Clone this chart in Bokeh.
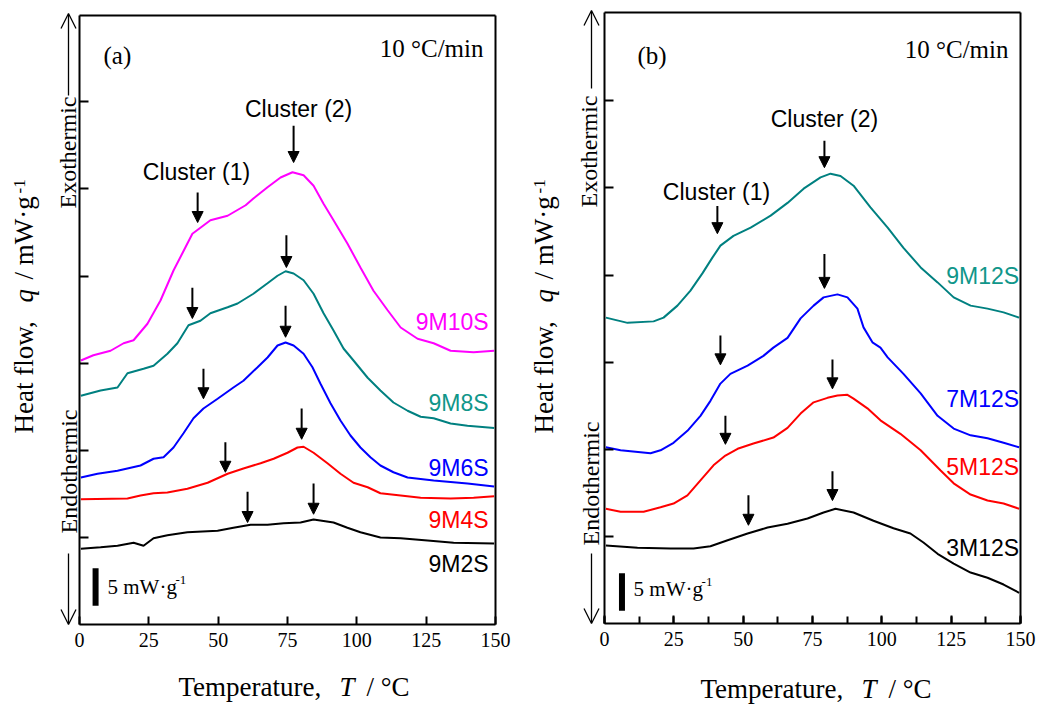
from math import pi
from bokeh.plotting import figure
from bokeh.layouts import row
from bokeh.models import (Range1d, FixedTicker, SingleIntervalTicker, Label, LinearAxis,
                          Arrow, NormalHead, OpenHead, ColumnDataSource)
from bokeh.embed import file_html
from bokeh.resources import INLINE
from bokeh.core.properties import value

SERIF = "Liberation Serif"
SANS = "Liberation Sans"

# ---------------- data : panel (a) ----------------
a_9M10S_T = [0.5, 5.0, 11.2, 15.9, 19.5, 24.5, 29.2, 33.9, 37.1, 40.7, 43.6, 47.2, 53.4, 59.9, 62.7, 67.8,
             72.5, 76.8, 80.8, 84.4, 88.0, 91.6, 96.6, 101.3, 106.0, 111.1, 115.8, 121.9, 127.7, 133.8, 142.1, 149.5]
a_9M10S_q = [35.2, 35.9, 36.5, 37.5, 37.9, 40.1, 43.2, 47.2, 49.5, 52.1, 52.9, 53.9, 54.5, 55.9, 56.8, 58.3,
             59.6, 60.3, 59.9, 58.5, 56.1, 53.9, 50.8, 47.6, 44.5, 41.9, 39.6, 38.1, 37.5, 36.5, 36.3, 36.5]

a_9M8S_T = [0.5, 7.6, 13.7, 17.3, 23.1, 26.7, 31.7, 35.3, 39.3, 43.6, 47.2, 53.4, 57.0, 62.7, 67.8, 71.4, 74.3,
            77.2, 80.8, 84.4, 88.0, 91.6, 95.2, 98.8, 103.9, 108.5, 113.2, 118.3, 123.0, 127.7, 133.8, 139.9, 149.5]
a_9M8S_q = [30.5, 31.2, 31.6, 33.5, 34.1, 34.5, 36.1, 37.5, 39.9, 40.5, 41.5, 42.3, 42.8, 44.1, 45.5, 46.5, 47.1,
            46.8, 45.9, 44.1, 41.5, 39.2, 36.8, 35.2, 32.9, 31.2, 29.6, 28.5, 27.7, 27.5, 26.8, 26.5, 26.2]

a_9M6S_T = [0.5, 6.5, 13.7, 22.0, 26.7, 30.3, 33.9, 37.5, 41.1, 44.7, 49.8, 55.5, 59.1, 64.2, 67.8, 71.4, 74.3,
            77.2, 80.8, 84.0, 86.9, 90.5, 94.1, 97.7, 101.3, 104.9, 108.5, 113.2, 118.3, 127.7, 139.9, 149.5]
a_9M6S_q = [19.6, 20.1, 20.5, 21.2, 22.1, 22.3, 23.6, 25.5, 27.5, 28.8, 30.1, 31.6, 32.5, 34.3, 35.6, 37.2, 37.6,
            37.2, 36.1, 34.3, 32.1, 29.5, 27.2, 25.2, 23.6, 22.3, 21.2, 20.3, 19.6, 19.2, 18.8, 18.4]

a_9M4S_T = [0.5, 17.3, 22.0, 26.7, 31.7, 38.9, 46.2, 53.4, 59.1, 65.3, 70.0, 75.0, 78.6, 80.8, 84.4, 89.4,
            94.1, 98.8, 103.9, 108.5, 115.8, 123.0, 133.8, 142.1, 149.5]
a_9M4S_q = [16.7, 16.8, 17.2, 17.5, 17.6, 18.1, 18.9, 20.1, 20.8, 21.5, 22.1, 22.9, 23.6, 23.7, 22.9, 21.5,
            20.1, 18.9, 18.3, 17.5, 17.2, 16.9, 16.8, 16.9, 17.1]

a_9M2S_T = [0.5, 7.6, 13.7, 19.5, 23.1, 26.7, 31.7, 38.9, 49.8, 55.5, 61.7, 67.8, 73.6, 79.7, 84.4, 91.6,
            96.6, 101.3, 108.5, 115.8, 125.5, 134.9, 149.5]
a_9M2S_q = [10.1, 10.3, 10.5, 10.9, 10.5, 11.5, 11.9, 12.3, 12.5, 12.9, 13.3, 13.3, 13.5, 13.6, 14.0, 13.6,
            12.9, 12.3, 11.6, 11.5, 11.2, 10.9, 10.8]

a_names = ["9M10S", "9M8S", "9M6S", "9M4S", "9M2S"]
a_label_q = [40.3, 29.6, 20.9, 13.9, 8.1]

a_arrow_T = [77.2, 42.6, 74.6, 40.7, 74.3, 44.7, 80.1, 52.6, 60.6, 84.4]
a_arrow_top = [66.5, 57.6, 51.9, 44.9, 42.5, 34.1, 28.8, 24.3, 17.7, 18.8]
a_arrow_tip = [61.6, 53.6, 47.6, 40.8, 38.3, 30.1, 24.7, 20.3, 13.6, 14.7]

# ---------------- data : panel (b) ----------------
b_9M12S_T = [0.5, 8.3, 17.7, 21.3, 26.3, 31.0, 35.3, 38.9, 41.8, 46.5, 52.7, 59.9, 66.0, 71.8, 77.9, 81.5,
             85.1, 89.8, 95.9, 102.1, 107.8, 114.0, 120.1, 125.9, 132.0, 138.1, 143.9, 149.5]
b_9M12S_q = [40.8, 40.1, 40.3, 40.8, 42.4, 44.4, 46.7, 48.8, 50.4, 51.7, 52.8, 54.4, 56.1, 58.0, 59.5, 60.0,
             59.7, 58.4, 55.5, 52.8, 50.1, 47.5, 45.5, 43.5, 42.4, 42.0, 41.5, 40.8]

b_7M12S_T = [0.5, 5.8, 16.6, 20.2, 24.9, 29.9, 34.6, 38.2, 41.8, 45.4, 51.6, 57.3, 60.9, 66.0, 70.7, 75.4,
             79.0, 84.0, 87.6, 91.2, 93.4, 96.6, 99.5, 102.1, 107.8, 114.0, 120.1, 125.9, 132.0, 138.1, 143.9, 149.5]
b_7M12S_q = [23.5, 23.1, 22.7, 23.1, 24.1, 25.7, 27.7, 29.7, 32.0, 33.3, 34.4, 35.7, 36.8, 38.1, 40.7, 42.4,
             43.5, 43.9, 43.5, 42.0, 39.5, 37.5, 36.8, 35.5, 33.3, 30.7, 27.7, 26.0, 25.1, 24.7, 24.1, 23.5]

b_5M12S_T = [0.5, 5.8, 14.1, 20.2, 24.9, 29.9, 34.6, 39.3, 43.6, 48.0, 53.7, 60.9, 66.0, 70.7, 75.4, 80.4,
             84.0, 87.6, 89.8, 94.8, 99.5, 106.7, 114.0, 121.2, 125.9, 132.0, 138.1, 143.9, 149.5]
b_5M12S_q = [15.3, 14.9, 14.9, 15.5, 16.0, 17.1, 19.1, 21.1, 22.4, 23.3, 24.0, 24.8, 26.1, 28.0, 29.5, 30.1,
             30.4, 30.5, 30.0, 28.7, 27.1, 25.3, 23.1, 20.4, 18.7, 17.2, 16.4, 16.0, 15.3]

b_3M12S_T = [0.5, 11.9, 23.8, 32.1, 38.2, 44.4, 51.6, 58.8, 66.0, 73.2, 79.0, 83.3, 89.8, 97.0, 104.2, 110.3,
             115.0, 120.1, 125.9, 132.0, 138.1, 143.9, 149.5]
b_3M12S_q = [10.4, 10.1, 10.0, 10.0, 10.3, 11.1, 12.0, 12.8, 13.3, 14.0, 14.8, 15.3, 14.8, 13.7, 12.7, 12.0,
             10.8, 9.3, 8.0, 6.8, 6.1, 5.2, 4.1]

b_names = ["9M12S", "7M12S", "5M12S", "3M12S"]
b_label_q = [46.3, 29.9, 20.9, 10.1]

b_arrow_T = [79.3, 40.7, 79.3, 41.8, 82.2, 43.6, 82.2, 51.9]
b_arrow_top = [64.4, 55.7, 49.3, 38.4, 35.2, 27.7, 20.3, 17.1]
b_arrow_tip = [60.8, 52.0, 44.7, 34.5, 31.3, 23.9, 16.4, 13.1]

x_ticks_interval = 25
y_ticks = [11.6, 23.2, 34.8, 46.4, 58.1, 69.7]
scale_bar_mW = 5.0

MAGENTA, TEAL, BLUE, RED, BLACK = "#ff00ff", "#008080", "#0000ff", "#ff0000", "#000000"
TEAL_TXT = "#10968a"
BASE_FIX = 0.37   # baseline correction (fraction of font size) for 'alphabetic' text


def build(spec):
    W, H, top, bottom, right, ymax = spec["W"], spec["H"], spec["top"], spec["bottom"], spec["right"], spec["ymax"]
    left = 79
    fw = W - left - right
    fh = H - top - bottom
    ux = 150.0 / fw
    uy = ymax / fh

    def fx(px):
        return px * ux

    def fy(py):
        return py * uy

    def txt(xp, yp, text, size, style="normal", rotated=False, align="left"):
        # xp, yp: pixel offsets of the text baseline start from the data box's lower-left corner
        c = BASE_FIX * size
        if rotated:
            x, y, ang = fx(xp - c), fy(yp), pi / 2
        else:
            x, y, ang = fx(xp), fy(yp + c), 0
        p.add_layout(Label(x=x, y=y, text=text, angle=ang, text_font=SERIF, text_font_size=f"{size}px",
                           text_font_style=style, text_baseline="alphabetic", text_align=align,
                           text_color="black"))

    p = figure(width=W, height=H,
               x_range=Range1d(-left * ux, 150 + right * ux),
               y_range=Range1d(-bottom * uy, ymax + top * uy),
               x_axis_location=None, y_axis_location=None,
               output_backend="svg", toolbar_location=None, min_border=0)
    p.grid.visible = False
    p.outline_line_color = None
    p.background_fill_color = "white"
    p.border_fill_color = "white"

    xa = LinearAxis(fixed_location=0, bounds=(0, 150),
                    ticker=SingleIntervalTicker(interval=x_ticks_interval, num_minor_ticks=spec["minor"]))
    xa.axis_line_width = 2
    xa.major_tick_in = 8
    xa.major_tick_out = 0
    xa.major_tick_line_width = 2
    xa.minor_tick_in = 7
    xa.minor_tick_out = 0
    xa.minor_tick_line_width = 2
    if spec["minor"] == 0:
        xa.minor_tick_line_color = None
    xa.major_label_text_font = SERIF
    xa.major_label_text_font_size = "20px"
    xa.major_label_text_color = "black"
    xa.major_label_standoff = 8
    p.add_layout(xa, "below")

    ya = LinearAxis(fixed_location=0, bounds=(0, ymax), ticker=FixedTicker(ticks=y_ticks, minor_ticks=[]))
    ya.axis_line_width = 2
    ya.major_tick_in = 9
    ya.major_tick_out = 0
    ya.major_tick_line_width = 2
    ya.minor_tick_line_color = None
    ya.major_label_text_color = None
    p.add_layout(ya, "left")

    xt = LinearAxis(fixed_location=ymax, bounds=(0, 150), ticker=FixedTicker(ticks=[]))
    xt.axis_line_width = 2
    xt.major_tick_line_color = None
    xt.minor_tick_line_color = None
    xt.major_label_text_color = None
    p.add_layout(xt, "above")
    yr = LinearAxis(fixed_location=150, bounds=(0, ymax), ticker=FixedTicker(ticks=[]))
    yr.axis_line_width = 2
    yr.major_tick_line_color = None
    yr.minor_tick_line_color = None
    yr.major_label_text_color = None
    p.add_layout(yr, "right")

    for T, q, c in spec["series"]:
        p.line(T, q, line_color=c, line_width=2)

    src = ColumnDataSource(dict(x=[spec["label_x"]] * len(spec["names"]), y=spec["label_q"],
                                t=spec["names"], c=spec["label_colors"]))
    p.text(x="x", y="y", text="t", text_color="c", source=src, text_align="right",
           text_baseline="middle", text_font=value(SANS), text_font_size="23px")

    for (tx, ty, t) in spec["clusters"]:
        p.add_layout(Label(x=tx, y=ty, text=t, text_align="center", text_baseline="middle",
                           text_font=SANS, text_font_size="23px", text_color="black"))

    asrc = ColumnDataSource(dict(x=spec["arrow_T"], y0=spec["arrow_top"], y1=spec["arrow_tip"]))
    p.add_layout(Arrow(end=NormalHead(size=11, fill_color="black", line_color="black", line_width=1),
                       x_start="x", y_start="y0", x_end="x", y_end="y1", source=asrc,
                       line_width=2, line_color="black"))

    # scale bar
    bx, by = spec["bar"]
    p.segment(x0=[bx], y0=[by], x1=[bx], y1=[by + scale_bar_mW], line_width=6,
              line_color="black", line_cap="butt")
    lx, ly = spec["bar_label"]
    p.add_layout(Label(x=lx, y=ly + fy(BASE_FIX * 21), text="5 mW·g", text_font=SERIF, text_font_size="21px",
                       text_baseline="alphabetic", text_color="black"))
    p.add_layout(Label(x=lx, y=ly + fy(BASE_FIX * 21), x_offset=68, y_offset=7, text="-1", text_font=SERIF,
                       text_font_size="13px", text_baseline="alphabetic", text_color="black"))

    # panel letter and rate
    p.add_layout(Label(x=fx(spec["letter_x"]), y=fy(spec["letter_y"]), text=spec["letter"],
                       text_font=SERIF, text_font_size="25px", text_baseline="middle", text_color="black"))
    txt(404, spec["rate_y"], "10 °C/min", 25, align="right")

    # x axis title
    for (ox, t, st) in [(0, "Temperature,", "normal"), (161, "T", "italic"), (188, "/ °C", "normal")]:
        txt(spec["xlab_x"] + ox, spec["xlab_y"], t, 27, st)

    # y axis title (rotated)
    yb, y0 = spec["ylab_x"], spec["ylab_y"]
    for (oy, t, st) in [(0, "Heat flow,", "normal"), (131, "q", "italic"), (154, "/ mW·g", "normal")]:
        txt(yb, y0 + oy, t, 27, st, rotated=True)
    txt(yb - 8, y0 + 240, "-1", 17, rotated=True)

    # exo / endo
    txt(spec["exo_x"], 416, "Exothermic", 24, rotated=True)
    txt(spec["endo_x"], spec["endo_y"], "Endothermic", 24, rotated=True)
    ax = fx(spec["arrow_x"])
    p.add_layout(Arrow(end=OpenHead(size=15, line_width=1.3, line_color="black"),
                       x_start=ax, y_start=fy(spec["up_from"]), x_end=ax, y_end=fy(fh + 2),
                       line_width=1.3, line_color="black"))
    p.add_layout(Arrow(end=OpenHead(size=15, line_width=1.3, line_color="black"),
                       x_start=ax, y_start=fy(spec["down_from"]), x_end=ax, y_end=fy(0),
                       line_width=1.3, line_color="black"))
    return p


spec_a = dict(W=525, H=708, top=15, bottom=84, right=30, ymax=81.2, minor=0,
              series=[(a_9M10S_T, a_9M10S_q, MAGENTA), (a_9M8S_T, a_9M8S_q, TEAL), (a_9M6S_T, a_9M6S_q, BLUE),
                      (a_9M4S_T, a_9M4S_q, RED), (a_9M2S_T, a_9M2S_q, BLACK)],
              names=a_names, label_q=a_label_q, label_x=147.5,
              label_colors=[MAGENTA, TEAL_TXT, BLUE, RED, BLACK],
              clusters=[(79.0, 68.8, "Cluster (2)"), (42.2, 60.3, "Cluster (1)")],
              arrow_T=a_arrow_T, arrow_top=a_arrow_top, arrow_tip=a_arrow_tip,
              bar=(5.8, 2.5), bar_label=(10.1, 3.9),
              letter="(a)", letter_x=24, letter_y=569, rate_y=567,
              xlab_x=99, xlab_y=-72, ylab_x=-46, ylab_y=191,
              exo_x=-3, endo_x=-2, endo_y=91, arrow_x=-11, up_from=529, down_from=71)

spec_b = dict(W=516, H=708, top=12, bottom=85, right=21, ymax=81.5, minor=2,
              series=[(b_9M12S_T, b_9M12S_q, TEAL), (b_7M12S_T, b_7M12S_q, BLUE),
                      (b_5M12S_T, b_5M12S_q, RED), (b_3M12S_T, b_3M12S_q, BLACK)],
              names=b_names, label_q=b_label_q, label_x=149.5,
              label_colors=[TEAL_TXT, BLUE, RED, BLACK],
              clusters=[(79.3, 67.3, "Cluster (2)"), (40.4, 57.5, "Cluster (1)")],
              arrow_T=b_arrow_T, arrow_top=b_arrow_top, arrow_tip=b_arrow_tip,
              bar=(6.3, 1.7), bar_label=(10.5, 3.5),
              letter="(b)", letter_x=33, letter_y=568, rate_y=565,
              xlab_x=96, xlab_y=-75, ylab_x=-51, ylab_y=190,
              exo_x=-7, endo_x=-5, endo_y=78, arrow_x=-13, up_from=535, down_from=70)

pa = build(spec_a)
pb = build(spec_b)
layout = row(pa, pb)

open("out.html", "w").write(file_html(layout, INLINE))
